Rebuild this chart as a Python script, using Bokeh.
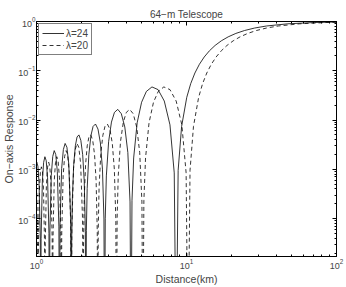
from bokeh.plotting import figure
from bokeh.models import (LogAxis, FixedTicker, LogTickFormatter, Range1d,
                          Legend, LegendItem)
from bokeh.embed import file_html
from bokeh.resources import INLINE

# ---------------- data ----------------
title_text = "64\u2212m Telescope"
x_label = "Distance(km)"
y_label = "On\u2212axis Response"
label_24 = "\u03bb=24"
label_20 = "\u03bb=20"

dist_24 = [100, 71.108, 47.406, 34.132, 28.443, 24.380, 21.333, 18.962, 17.066, 15.515,
           14.222, 13.128, 12.190, 11.377, 10.666, 10.039, 9.275, 8.797, 8.533,
           8.284, 7.757, 7.111, 6.464, 5.885, 5.401, 5.019, 4.688, 4.444, 4.331, 4.2665,
           4.2034, 4.0633, 3.8786, 3.678, 3.4829, 3.3074, 3.1604, 3.0259, 2.9223, 2.873, 2.8443,
           2.8162, 2.7526, 2.6666, 2.5702, 2.4733, 2.3835, 2.3062, 2.2338, 2.1768, 2.1494, 2.1333,
           2.1174, 2.0812, 2.0317, 1.9752, 1.9175, 1.8631, 1.8155, 1.7703, 1.7344, 1.7169, 1.7066,
           1.6897, 1.6410, 1.5950, 1.5515, 1.5103, 1.4712, 1.4341, 1.4222,
           1.4104, 1.3763, 1.3438, 1.3128, 1.2832, 1.2548, 1.2278, 1.2190,
           1.2104, 1.1851, 1.1610, 1.1377, 1.1154, 1.0940, 1.0733, 1.0666,
           1.0600, 1.0406, 1.0219, 1.0039, 0.9865, 0.9697, 0.9534, 0.9481]
resp_24 = [0.97626, 0.95350, 0.89786, 0.81057, 0.73684, 0.65665, 0.57279, 0.48811, 0.40528, 0.32675,
           0.25457, 0.19039, 0.13534, 0.09006, 0.054696, 0.028904, 0.007404, 0.0009538, 1e-7,
           8.459e-4, 7.996e-3, 0.02431, 0.04145, 0.04701, 0.03808, 0.02295, 0.008782, 0.0017, 2.312e-4, 1e-7,
           2.178e-4, 2.194e-3, 7.233e-3, 0.01342, 0.01647, 0.01428, 0.009097, 0.003658, 7.35e-4, 1.017e-4, 1e-7,
           9.775e-5, 1.007e-3, 3.418e-3, 6.553e-3, 8.304e-3, 7.417e-3, 4.844e-3, 1.994e-3, 4.078e-4, 5.694e-5, 1e-7,
           5.526e-5, 5.756e-4, 1.984e-3, 3.870e-3, 4.991e-3, 4.531e-3, 3.002e-3, 1.252e-3, 2.589e-4, 3.633e-5, 1e-7,
           9.722e-5, 1.2946e-3, 2.810e-3, 3.349e-3, 2.520e-3, 1.0406e-3, 7.003e-5, 1e-7,
           6.774e-5, 9.107e-4, 1.995e-3, 2.398e-3, 1.819e-3, 7.570e-4, 5.133e-5, 1e-7,
           4.988e-5, 6.753e-4, 1.489e-3, 1.801e-3, 1.3745e-3, 5.754e-4, 3.923e-5, 1e-7,
           3.826e-5, 5.206e-4, 1.1537e-3, 1.4024e-3, 1.0751e-3, 4.520e-4, 3.095e-5, 1e-7]

dist_20 = [100, 85.333, 56.889, 40.96, 34.133, 29.257, 25.6, 22.756, 20.48, 18.618,
           17.067, 15.754, 14.629, 13.653, 12.8, 12.047, 11.130, 10.557, 10.24,
           9.942, 9.309, 8.533, 7.758, 7.062, 6.481, 6.024, 5.626, 5.333, 5.198, 5.12,
           5.0443, 4.8762, 4.6545, 4.4138, 4.1796, 3.969, 3.7926, 3.6312, 3.5068, 3.4478, 3.4133,
           3.3795, 3.3032, 3.2, 3.0843, 2.9681, 2.8603, 2.7676, 2.6806, 2.6122, 2.5793, 2.56,
           2.541, 2.4976, 2.4381, 2.3704, 2.3011, 2.2358, 2.1787, 2.1245, 2.0813, 2.0604, 2.048,
           2.0277, 1.9692, 1.9140, 1.8618, 1.8124, 1.7655, 1.7210, 1.7067,
           1.6926, 1.6516, 1.6126, 1.5754, 1.5398, 1.5059, 1.4734, 1.4629,
           1.4525, 1.4222, 1.3932, 1.3653, 1.3386, 1.3128, 1.2881, 1.28,
           1.2720, 1.2488, 1.2263, 1.2047, 1.1838, 1.1636, 1.1441, 1.1378,
           1.1315, 1.1130, 1.0952, 1.0779, 1.0611, 1.0449, 1.0291, 1.024,
           1.0189, 1.0039, 0.9894, 0.9752, 0.9615, 0.9481, 0.9352, 0.9309]
resp_20 = [0.96589, 0.95350, 0.89786, 0.81057, 0.73684, 0.65665, 0.57279, 0.48811, 0.40528, 0.32675,
           0.25457, 0.19039, 0.13534, 0.09006, 0.054696, 0.028904, 0.007404, 0.0009538, 1e-7,
           8.459e-4, 7.996e-3, 0.02431, 0.04145, 0.04701, 0.03808, 0.02295, 0.008782, 0.0017, 2.312e-4, 1e-7,
           2.178e-4, 2.194e-3, 7.233e-3, 0.01342, 0.01647, 0.01428, 0.009097, 0.003658, 7.35e-4, 1.017e-4, 1e-7,
           9.775e-5, 1.007e-3, 3.418e-3, 6.553e-3, 8.304e-3, 7.417e-3, 4.844e-3, 1.994e-3, 4.078e-4, 5.694e-5, 1e-7,
           5.526e-5, 5.756e-4, 1.984e-3, 3.870e-3, 4.991e-3, 4.531e-3, 3.002e-3, 1.252e-3, 2.589e-4, 3.633e-5, 1e-7,
           9.722e-5, 1.2946e-3, 2.810e-3, 3.349e-3, 2.520e-3, 1.0406e-3, 7.003e-5, 1e-7,
           6.774e-5, 9.107e-4, 1.995e-3, 2.398e-3, 1.819e-3, 7.570e-4, 5.133e-5, 1e-7,
           4.988e-5, 6.753e-4, 1.489e-3, 1.801e-3, 1.3745e-3, 5.754e-4, 3.923e-5, 1e-7,
           3.826e-5, 5.206e-4, 1.1537e-3, 1.4024e-3, 1.0751e-3, 4.520e-4, 3.095e-5, 1e-7,
           3.027e-5, 4.136e-4, 9.201e-4, 1.1227e-3, 8.638e-4, 3.645e-4, 2.504e-5, 1e-7,
           2.455e-5, 3.365e-4, 7.509e-4, 9.19e-4, 7.092e-4, 3.001e-4, 2.068e-5, 1e-7]

x_major = [1, 10, 100]
y_major = [1e-4, 1e-3, 1e-2, 1e-1, 1]
x_limits = (1, 100)
y_limits = (1.7e-5, 1)

# ---------------- figure ----------------
FONT = "Liberation Sans"
x_minor = [m * 10 ** e for e in range(0, 2) for m in range(2, 10)]
y_minor = [m * 10.0 ** e for e in range(-5, 0) for m in range(2, 10) if m * 10.0 ** e > y_limits[0]]

p = figure(width=346, height=287, x_axis_type="log", y_axis_type="log",
           x_range=Range1d(*x_limits), y_range=Range1d(*y_limits),
           output_backend="svg", toolbar_location=None,
           min_border_left=36, min_border_right=10, min_border_top=21, min_border_bottom=29)
p.background_fill_color = "white"
p.border_fill_color = "white"
p.outline_line_color = "black"
p.outline_line_width = 1
p.xgrid.visible = False
p.ygrid.visible = False

p.title.text = title_text
p.title.align = "center"
p.title.text_font = FONT
p.title.text_font_size = "10px"
p.title.text_font_style = "normal"
p.title.standoff = 3
p.title.offset = 0


def style_axis(ax, ticks, minor, show_labels):
    ax.ticker = FixedTicker(ticks=ticks, minor_ticks=minor)
    ax.formatter = LogTickFormatter()
    ax.axis_line_color = "black"
    ax.major_tick_line_color = "black"
    ax.minor_tick_line_color = "black"
    ax.major_tick_in = 4
    ax.major_tick_out = 0
    ax.minor_tick_in = 2
    ax.minor_tick_out = 0
    ax.major_label_text_font = FONT
    ax.major_label_text_font_size = "9px" if show_labels else "1px"
    ax.major_label_text_alpha = 1 if show_labels else 0
    ax.major_label_standoff = 2 if show_labels else 0
    ax.axis_label_text_font = FONT
    ax.axis_label_text_font_size = "10.5px"
    ax.axis_label_text_font_style = "normal"
    ax.axis_label_standoff = 1


style_axis(p.xaxis[0], x_major, x_minor, True)
style_axis(p.yaxis[0], y_major, y_minor, True)
p.xaxis[0].axis_label = x_label
p.yaxis[0].axis_label = y_label
p.yaxis[0].major_label_standoff = 1
p.yaxis[0].axis_label_standoff = 0

top_ax = LogAxis()
style_axis(top_ax, x_major, x_minor, False)
p.add_layout(top_ax, "above")
right_ax = LogAxis()
style_axis(right_ax, y_major, y_minor, False)
p.add_layout(right_ax, "right")

r24 = p.line(dist_24, resp_24, line_color="black", line_width=0.8)
r20 = p.line(dist_20, resp_20, line_color="black", line_width=0.8, line_dash="4 3")

legend = Legend(items=[LegendItem(label=label_24, renderers=[r24]),
                       LegendItem(label=label_20, renderers=[r20])],
                location="top_left")
legend.border_line_color = "black"
legend.border_line_width = 1
legend.label_text_font = FONT
legend.label_text_font_size = "10px"
legend.glyph_width = 22
legend.glyph_height = 12
legend.label_height = 12
legend.label_standoff = 2
legend.padding = 3
legend.spacing = 0
legend.margin = 2
legend.background_fill_alpha = 1
p.add_layout(legend)

open("out.html", "w").write(file_html(p, INLINE))
